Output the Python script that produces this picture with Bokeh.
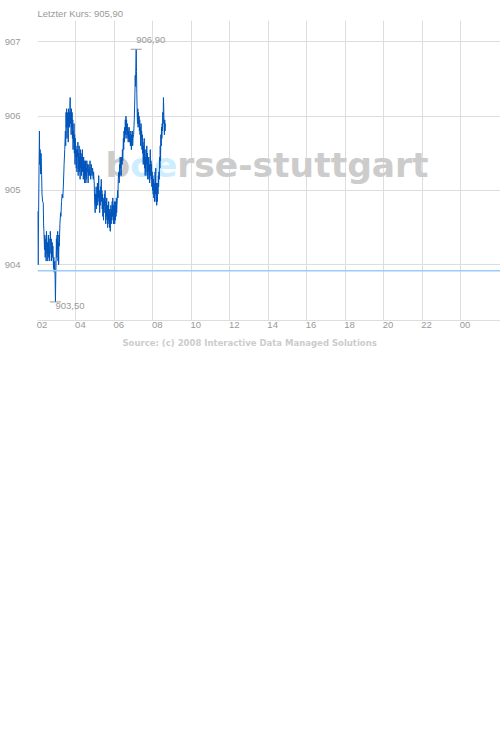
from bokeh.plotting import figure
from bokeh.models import FixedTicker, Span, Label, Range1d, Title
from bokeh.core.properties import value
from bokeh.embed import file_html
from bokeh.resources import INLINE

# ---- data ----
TITLE_PREFIX = "Letzter Kurs: "
LAST_PRICE = 905.90
PREV_CLOSE = 903.92
SOURCE_TEXT = "Source: (c) 2008 Interactive Data Managed Solutions"
WATERMARK = ["b", "oe", "rse-stuttgart"]

START_HOUR = 2
# minutes after 02:00
MINUTES = [
    0, 2, 5, 6, 7, 8, 10, 11, 13, 14, 16, 18, 19, 20, 22, 23, 24, 26, 27, 28,
    30, 31, 32, 34, 35, 36, 38, 39, 40, 42, 43, 44, 46, 47, 48, 50, 51, 52, 54, 55,
    56, 57, 58, 59, 60, 61, 62, 63, 64, 65, 66, 67, 68, 70, 72, 73, 75, 77, 79, 81,
    83, 85, 87, 88, 89, 90, 91, 92, 93, 94, 95, 96, 97, 98, 99, 100, 101, 102, 103, 104,
    105, 106, 107, 108, 109, 110, 111, 112, 113, 114, 115, 116, 117, 118, 119, 120, 121, 122, 123, 124,
    125, 126, 127, 128, 129, 130, 131, 132, 133, 134, 135, 136, 137, 138, 139, 140, 141, 142, 143, 144,
    145, 146, 147, 148, 149, 150, 151, 152, 153, 154, 155, 156, 158, 160, 162, 164, 166, 168, 170, 172,
    174, 175, 177, 178, 180, 181, 182, 183, 184, 185, 186, 187, 188, 189, 190, 191, 192, 193, 194, 195,
    196, 197, 198, 199, 200, 201, 202, 203, 204, 205, 206, 207, 208, 209, 210, 211, 212, 213, 214, 215,
    216, 217, 218, 219, 220, 221, 222, 223, 224, 225, 226, 227, 228, 229, 230, 231, 232, 233, 234, 235,
    236, 237, 238, 239, 240, 241, 242, 243, 244, 245, 246, 247, 248, 250, 251, 252, 254, 255, 256, 257,
    258, 259, 260, 261, 262, 264, 265, 266, 268, 269, 270, 271, 272, 273, 274, 275, 276, 277, 278, 279,
    280, 281, 282, 283, 284, 285, 286, 287, 288, 290, 291, 292, 293, 294, 295, 296, 297, 298, 300, 302,
    304, 305, 306, 307, 308, 309, 310, 311, 312, 313, 314, 315, 316, 317, 318, 319, 320, 321, 322, 323,
    324, 325, 326, 327, 328, 329, 330, 331, 332, 333, 334, 335, 336, 337, 338, 339, 340, 341, 342, 343,
    344, 345, 346, 347, 348, 349, 350, 351, 352, 353, 354, 355, 356, 357, 358, 359, 360, 361, 362, 363,
    364, 365, 366, 367, 368, 369, 370, 371, 372, 373, 374, 375, 376, 377, 378, 379, 380, 381, 382, 383,
    384, 385, 386, 387, 388, 389, 390, 391, 392, 393, 394, 395, 396, 397, 398, 399,
]
PRICES = [
    904.72, 904.00, 905.40, 905.80, 905.35, 905.55, 905.22, 905.50, 905.20, 904.95,
    904.85, 904.83, 904.55, 904.45, 904.20, 904.40, 904.10, 904.35, 904.05, 904.45,
    904.15, 904.30, 904.05, 904.40, 904.10, 904.35, 904.05, 904.25, 904.45, 904.15,
    904.35, 904.05, 904.30, 904.10, 904.25, 903.95, 904.10, 903.90, 904.05, 903.80,
    903.50, 903.85, 904.05, 904.35, 904.10, 904.40, 904.20, 904.45, 904.05, 904.30,
    904.00, 904.40, 904.25, 904.55, 904.70, 904.65, 904.85, 904.95, 904.90, 905.10,
    905.35, 905.55, 905.80, 905.60, 906.05, 905.85, 906.10, 905.70, 906.05, 905.85,
    906.00, 905.65, 906.10, 905.90, 906.05, 905.85, 906.10, 906.25, 905.90, 906.05,
    905.75, 906.10, 905.85, 906.05, 905.70, 905.95, 905.55, 905.80, 905.65, 905.90,
    905.50, 905.75, 905.35, 905.70, 905.45, 905.60, 905.30, 905.55, 905.25, 905.55,
    905.45, 905.65, 905.20, 905.50, 905.30, 905.60, 905.25, 905.45, 905.15, 905.55,
    905.30, 905.50, 905.20, 905.45, 905.30, 905.55, 905.25, 905.40, 905.15, 905.45,
    905.25, 905.40, 905.10, 905.35, 905.20, 905.40, 905.10, 905.30, 905.15, 905.40,
    905.25, 905.35, 905.10, 905.35, 905.20, 905.40, 905.15, 905.35, 905.20, 905.30,
    905.15, 905.25, 905.10, 904.90, 904.70, 904.95, 904.80, 905.05, 904.75, 904.95,
    904.85, 905.10, 904.80, 905.05, 904.90, 905.20, 904.85, 905.00, 904.70, 904.95,
    904.80, 905.05, 904.90, 905.15, 904.85, 905.00, 904.75, 904.95, 904.65, 904.90,
    904.60, 904.85, 904.70, 904.95, 904.80, 905.00, 904.75, 904.55, 904.85, 904.65,
    904.90, 904.60, 904.80, 904.50, 904.75, 904.60, 904.85, 904.55, 904.75, 904.50,
    904.70, 904.45, 904.65, 904.80, 904.55, 904.75, 904.60, 904.85, 904.65, 904.90,
    904.70, 904.55, 904.80, 904.60, 904.85, 904.55, 904.75, 904.60, 904.85, 904.65,
    904.90, 904.70, 904.80, 905.00, 904.90, 905.15, 905.25, 905.10, 905.35, 905.20,
    905.45, 905.30, 905.40, 905.20, 905.45, 905.35, 905.55, 905.40, 905.70, 905.55,
    905.80, 905.65, 905.85, 905.70, 905.95, 905.75, 906.00, 905.80, 905.95, 905.70,
    905.90, 905.75, 905.85, 905.65, 905.80, 905.70, 905.85, 905.65, 905.75, 905.60,
    905.80, 905.70, 905.55, 905.75, 905.65, 905.80, 905.60, 905.70, 905.75, 905.95,
    906.30, 906.55, 906.40, 906.70, 906.90, 906.60, 906.30, 906.05, 905.90, 906.10,
    905.85, 906.05, 905.90, 906.00, 905.80, 905.95, 905.75, 905.85, 905.60, 905.90,
    905.70, 905.80, 905.55, 905.75, 905.50, 905.65, 905.35, 905.60, 905.40, 905.70,
    905.30, 905.55, 905.20, 905.45, 905.25, 905.55, 905.35, 905.60, 905.20, 905.50,
    905.15, 905.40, 905.25, 905.45, 905.15, 905.35, 905.10, 905.30, 905.55, 905.20,
    905.40, 905.15, 905.35, 905.05, 905.25, 905.00, 905.20, 904.95, 905.15, 904.90,
    905.10, 904.85, 905.05, 905.25, 904.95, 905.30, 904.85, 905.10, 904.80, 905.00,
    904.85, 905.10, 904.95, 905.20, 905.05, 905.25, 905.15, 905.45, 905.30, 905.60,
    905.40, 905.75, 905.60, 905.85, 905.70, 905.90, 905.80, 906.05, 905.90, 906.25,
    906.10, 905.85, 905.75, 905.95, 905.80, 905.90,
]
X_TICK_HOURS = [2, 4, 6, 8, 10, 12, 14, 16, 18, 20, 22, 24]
X_TICK_LABELS = ["02", "04", "06", "08", "10", "12", "14", "16", "18", "20", "22", "00"]
Y_TICKS = [904, 905, 906, 907]
Y_TICK_LABELS = ["904", "905", "906", "907"]


def de(v):
    return f"{v:.2f}".replace(".", ",")


hours = [START_HOUR + m / 60 for m in MINUTES]

GRID = "#dddddd"
LABEL_COL = "#999999"
FONT = "Liberation Sans"

p = figure(width=500, height=352, output_backend="svg", toolbar_location=None,
           x_range=Range1d(2, 26.08), y_range=Range1d(903.25, 907.287),
           min_border_left=37, min_border_right=0, min_border_top=20, min_border_bottom=32)
p.outline_line_color = None
p.background_fill_color = "white"
p.border_fill_color = "white"

# title (above) and source (below)
p.title.text = TITLE_PREFIX + de(LAST_PRICE)
p.title.text_font = FONT
p.title.text_font_style = "normal"
p.title.text_font_size = "9.5px"
p.title.text_color = LABEL_COL
p.title.align = "left"
p.title.standoff = 4
p.add_layout(Title(text=SOURCE_TEXT, align="left", offset=85, text_font="DejaVu Sans",
                   text_font_style="bold", text_font_size="8.5px", text_color="#cccccc",
                   standoff=10), "below")

# grids
p.xgrid.ticker = FixedTicker(ticks=X_TICK_HOURS)
p.ygrid.ticker = FixedTicker(ticks=Y_TICKS)
p.xgrid.grid_line_color = GRID
p.ygrid.grid_line_color = GRID

# x axis: labels sit just right of each grid line
shift = 0.23
xt = [h + shift for h in X_TICK_HOURS]
p.xaxis.ticker = FixedTicker(ticks=xt)
p.xaxis.major_label_overrides = {t: l for t, l in zip(xt, X_TICK_LABELS)}
p.xaxis.axis_line_color = GRID
p.xaxis.major_tick_line_color = None
p.xaxis.minor_tick_line_color = None
p.xaxis.major_tick_out = 0
p.xaxis.major_tick_in = 0
p.xaxis.minor_tick_out = 0
p.xaxis.major_label_standoff = 1
p.xaxis.major_label_text_font = FONT
p.xaxis.major_label_text_font_size = "9.5px"
p.xaxis.major_label_text_color = LABEL_COL

p.yaxis.ticker = FixedTicker(ticks=Y_TICKS)
p.yaxis.major_label_overrides = {t: l for t, l in zip(Y_TICKS, Y_TICK_LABELS)}
p.yaxis.axis_line_color = None
p.yaxis.major_tick_line_color = None
p.yaxis.minor_tick_line_color = None
p.yaxis.major_tick_out = 0
p.yaxis.major_tick_in = 0
p.yaxis.minor_tick_out = 0
p.yaxis.major_label_standoff = 17
p.yaxis.major_label_text_font = FONT
p.yaxis.major_label_text_font_size = "9.5px"
p.yaxis.major_label_text_color = LABEL_COL

# watermark
wm_size = 34.5
wm_font = "DejaVu Sans"
offs = [0, 0.716 * wm_size, (0.716 + 1.365) * wm_size]
cols = ["#cccccc", "#cceeff", "#cccccc"]
for txt, o, c in zip(WATERMARK, offs, cols):
    p.add_layout(Label(x=68 + o, y=156, x_units="screen", y_units="screen", text=txt,
                       text_font=wm_font, text_font_style="bold", text_font_size=f"{wm_size}px",
                       text_color=c, text_baseline="alphabetic", level="underlay"))

# previous close
p.add_layout(Span(location=PREV_CLOSE, dimension="width", line_color="#99ccff", line_width=1.5))

# price line
p.line(hours, PRICES, line_color="#0055bb", line_width=1.0)

# max / min markers
imax = max(range(len(PRICES)), key=lambda i: PRICES[i])
imin = min(range(len(PRICES)), key=lambda i: PRICES[i])
p.scatter([hours[imax], hours[imin]], [PRICES[imax], PRICES[imin]], marker="dash",
          size=11, line_color="#999999", line_width=1)
p.text([hours[imax]], [PRICES[imax]], text=[de(PRICES[imax])], x_offset=0, y_offset=-6,
       text_font=value(FONT), text_font_size="9.5px", text_color=LABEL_COL,
       text_baseline="bottom", text_align="left")
p.text([hours[imin]], [PRICES[imin]], text=[de(PRICES[imin])], x_offset=0, y_offset=1,
       text_font=value(FONT), text_font_size="9.5px", text_color=LABEL_COL,
       text_baseline="top", text_align="left")

open("out.html", "w").write(file_html(p, INLINE))
